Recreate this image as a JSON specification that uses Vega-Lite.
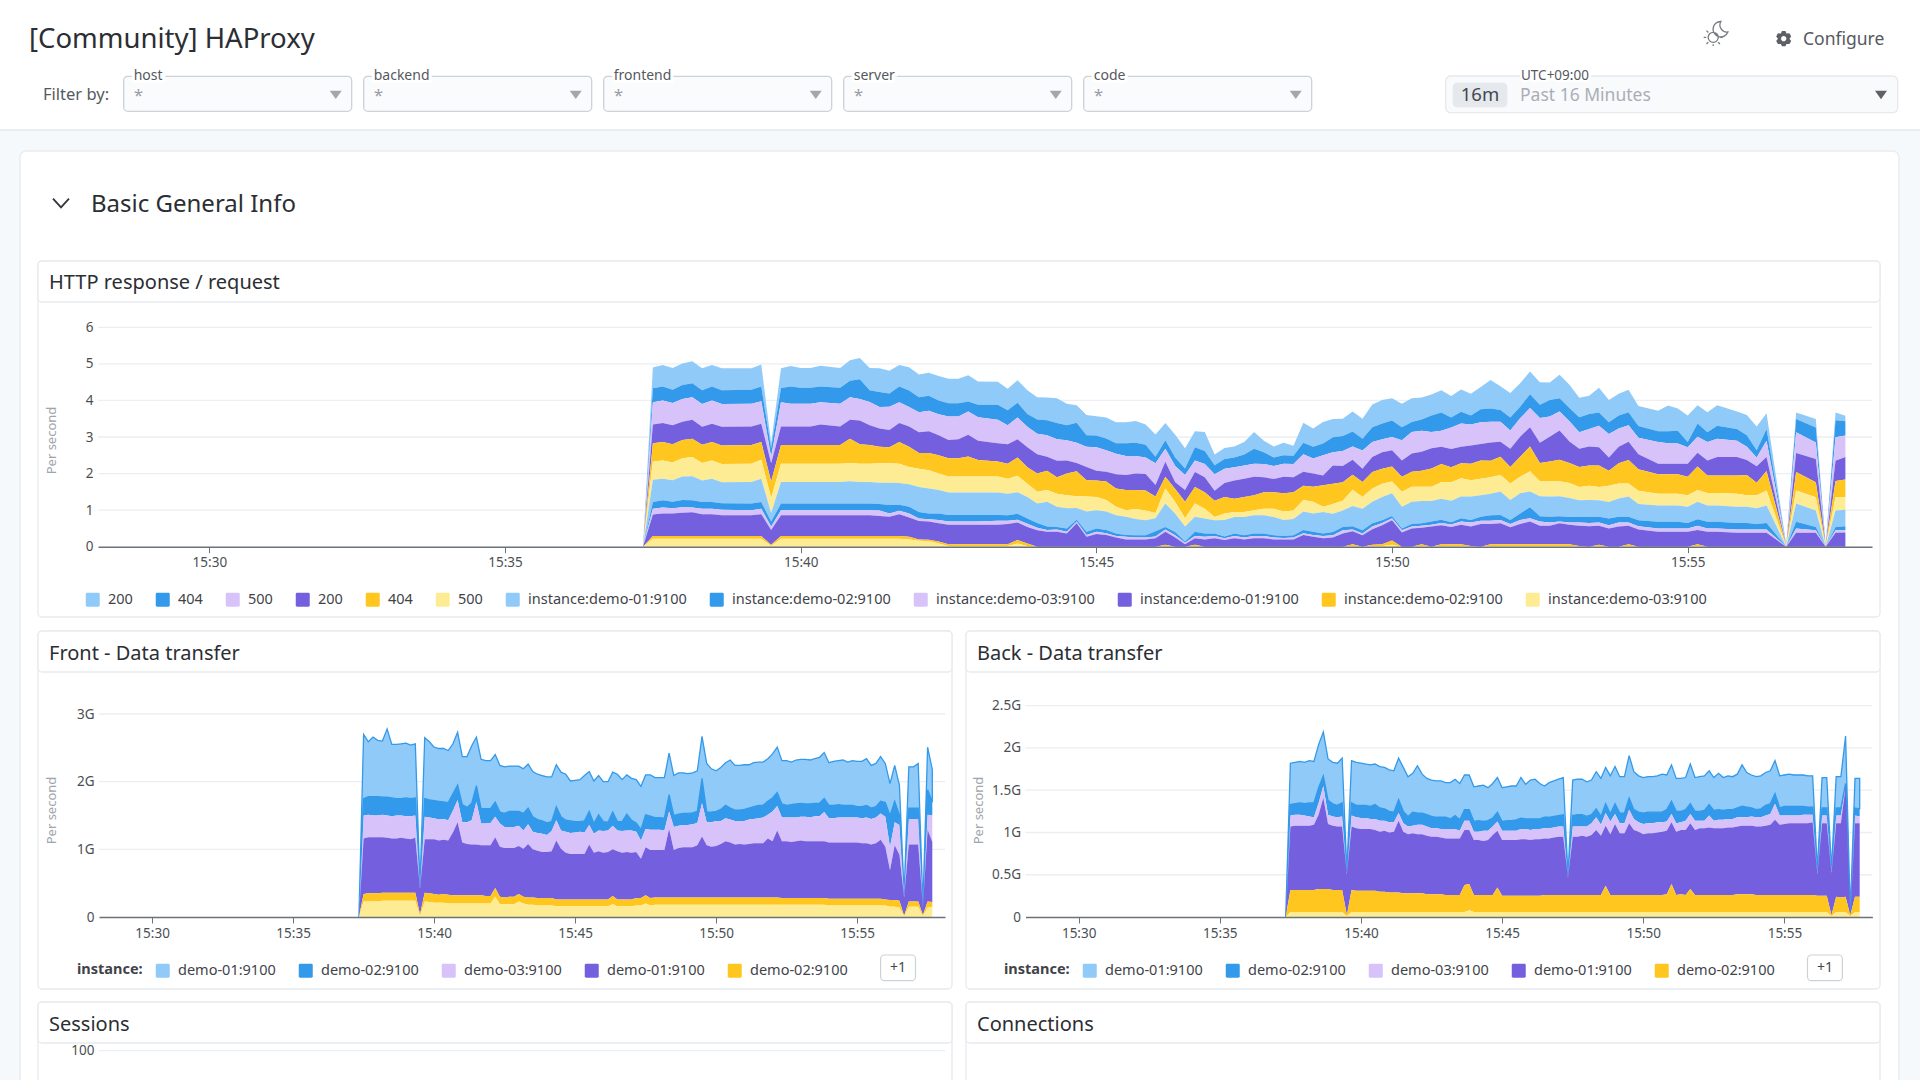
{
"$schema":"https://vega.github.io/schema/vega-lite/v6.json",
"width":1920,"height":1080,"autosize":"none","padding":0,"background":"#f6f9fb",
"config":{"font":"Noto Sans","view":{"stroke":null},"text":{"font":"Noto Sans"}},
"resolve":{"scale":{"x":"independent","y":"independent","color":"independent","stroke":"independent"},"axis":{"x":"independent","y":"independent"},"legend":{"color":"independent"}},
"datasets":{
"ticksHttp":[{"v":1},{"v":2},{"v":3},{"v":4},{"v":5},{"v":6}],
"ticksFront":[{"v":1},{"v":2},{"v":3}],
"ticksBack":[{"v":0.5},{"v":1},{"v":1.5},{"v":2},{"v":2.5}],
"ticksSessions":[{"v":100}],
"ticksConnections":[{"v":80}],
"filters":[{"name":"host","star":"*","group":"Filter by"},{"name":"backend","star":"*","group":"Filter by"},{"name":"frontend","star":"*","group":"Filter by"},{"name":"server","star":"*","group":"Filter by"},{"name":"code","star":"*","group":"Filter by"}],
"http":[
{"t":"15:37:20","a":0,"b":0,"c":0,"d":0,"e":0,"f":0,"g":0,"h":0,"i":0,"j":0,"k":0,"l":0},
{"t":"15:37:30","a":0.57,"b":0.38,"c":0.61,"d":0.51,"e":0.5,"f":0.5,"g":0.61,"h":0.18,"i":0.16,"j":0.59,"k":0.07,"l":0.22},
{"t":"15:37:40","a":0.59,"b":0.38,"c":0.62,"d":0.52,"e":0.5,"f":0.5,"g":0.59,"h":0.2,"i":0.16,"j":0.62,"k":0.07,"l":0.22},
{"t":"15:37:50","a":0.6,"b":0.36,"c":0.61,"d":0.52,"e":0.5,"f":0.48,"g":0.59,"h":0.18,"i":0.14,"j":0.62,"k":0.07,"l":0.22},
{"t":"15:38:00","a":0.59,"b":0.38,"c":0.62,"d":0.5,"e":0.5,"f":0.5,"g":0.64,"h":0.2,"i":0.15,"j":0.64,"k":0.07,"l":0.22},
{"t":"15:38:10","a":0.6,"b":0.38,"c":0.62,"d":0.52,"e":0.5,"f":0.52,"g":0.66,"h":0.2,"i":0.13,"j":0.65,"k":0.07,"l":0.22},
{"t":"15:38:20","a":0.6,"b":0.38,"c":0.62,"d":0.49,"e":0.5,"f":0.48,"g":0.59,"h":0.18,"i":0.15,"j":0.6,"k":0.07,"l":0.22},
{"t":"15:38:30","a":0.59,"b":0.38,"c":0.64,"d":0.5,"e":0.5,"f":0.5,"g":0.64,"h":0.18,"i":0.15,"j":0.6,"k":0.07,"l":0.22},
{"t":"15:38:40","a":0.6,"b":0.38,"c":0.62,"d":0.51,"e":0.51,"f":0.5,"g":0.57,"h":0.18,"i":0.15,"j":0.57,"k":0.07,"l":0.22},
{"t":"15:39:10","a":0.59,"b":0.38,"c":0.62,"d":0.51,"e":0.51,"f":0.5,"g":0.59,"h":0.18,"i":0.14,"j":0.57,"k":0.07,"l":0.22},
{"t":"15:39:20","a":0.6,"b":0.4,"c":0.62,"d":0.5,"e":0.48,"f":0.52,"g":0.64,"h":0.18,"i":0.15,"j":0.6,"k":0.07,"l":0.22},
{"t":"15:39:30","a":0.14,"b":0.23,"c":0.18,"d":0.5,"e":0.45,"f":0.41,"g":0.23,"h":0.14,"i":0.09,"j":0.41,"k":0.03,"l":0.02},
{"t":"15:39:40","a":0.54,"b":0.39,"c":0.66,"d":0.51,"e":0.51,"f":0.5,"g":0.59,"h":0.18,"i":0.14,"j":0.57,"k":0.07,"l":0.22},
{"t":"15:39:50","a":0.56,"b":0.47,"c":0.62,"d":0.51,"e":0.51,"f":0.5,"g":0.59,"h":0.18,"i":0.14,"j":0.57,"k":0.07,"l":0.22},
{"t":"15:40:00","a":0.54,"b":0.44,"c":0.62,"d":0.51,"e":0.51,"f":0.5,"g":0.59,"h":0.18,"i":0.14,"j":0.57,"k":0.07,"l":0.22},
{"t":"15:40:10","a":0.54,"b":0.44,"c":0.62,"d":0.51,"e":0.51,"f":0.5,"g":0.59,"h":0.18,"i":0.14,"j":0.57,"k":0.07,"l":0.22},
{"t":"15:40:20","a":0.57,"b":0.43,"c":0.61,"d":0.56,"e":0.51,"f":0.5,"g":0.59,"h":0.18,"i":0.14,"j":0.57,"k":0.07,"l":0.22},
{"t":"15:40:40","a":0.54,"b":0.44,"c":0.62,"d":0.51,"e":0.51,"f":0.5,"g":0.59,"h":0.18,"i":0.14,"j":0.57,"k":0.07,"l":0.22},
{"t":"15:40:50","a":0.56,"b":0.45,"c":0.62,"d":0.52,"e":0.66,"f":0.5,"g":0.61,"h":0.18,"i":0.14,"j":0.57,"k":0.07,"l":0.22},
{"t":"15:41:00","a":0.58,"b":0.54,"c":0.59,"d":0.65,"e":0.53,"f":0.5,"g":0.59,"h":0.18,"i":0.14,"j":0.57,"k":0.07,"l":0.22},
{"t":"15:41:10","a":0.61,"b":0.32,"c":0.64,"d":0.54,"e":0.51,"f":0.5,"g":0.59,"h":0.18,"i":0.14,"j":0.57,"k":0.07,"l":0.22},
{"t":"15:41:20","a":0.65,"b":0.41,"c":0.59,"d":0.5,"e":0.45,"f":0.53,"g":0.58,"h":0.18,"i":0.15,"j":0.55,"k":0.07,"l":0.22},
{"t":"15:41:30","a":0.62,"b":0.36,"c":0.64,"d":0.47,"e":0.44,"f":0.53,"g":0.61,"h":0.23,"i":0.09,"j":0.53,"k":0.07,"l":0.22},
{"t":"15:41:40","a":0.59,"b":0.43,"c":0.57,"d":0.52,"e":0.59,"f":0.53,"g":0.59,"h":0.17,"i":0.09,"j":0.6,"k":0.07,"l":0.22},
{"t":"15:41:50","a":0.64,"b":0.45,"c":0.53,"d":0.56,"e":0.55,"f":0.47,"g":0.62,"h":0.18,"i":0.11,"j":0.53,"k":0.07,"l":0.2},
{"t":"15:42:00","a":0.62,"b":0.41,"c":0.55,"d":0.57,"e":0.43,"f":0.5,"g":0.68,"h":0.18,"i":0.07,"j":0.5,"k":0.04,"l":0.16},
{"t":"15:42:10","a":0.63,"b":0.41,"c":0.56,"d":0.6,"e":0.47,"f":0.5,"g":0.68,"h":0.16,"i":0.06,"j":0.5,"k":0.04,"l":0.15},
{"t":"15:42:20","a":0.67,"b":0.38,"c":0.57,"d":0.55,"e":0.5,"f":0.45,"g":0.64,"h":0.18,"i":0.09,"j":0.5,"k":0.05,"l":0.09},
{"t":"15:42:30","a":0.67,"b":0.36,"c":0.64,"d":0.5,"e":0.5,"f":0.44,"g":0.61,"h":0.18,"i":0.09,"j":0.53,"k":0.05,"l":0.02},
{"t":"15:42:40","a":0.67,"b":0.36,"c":0.62,"d":0.52,"e":0.5,"f":0.44,"g":0.61,"h":0.18,"i":0.09,"j":0.53,"k":0.05,"l":0.02},
{"t":"15:42:50","a":0.72,"b":0.27,"c":0.64,"d":0.59,"e":0.55,"f":0.44,"g":0.61,"h":0.18,"i":0.09,"j":0.53,"k":0.05,"l":0.02},
{"t":"15:43:00","a":0.64,"b":0.34,"c":0.64,"d":0.53,"e":0.45,"f":0.44,"g":0.61,"h":0.18,"i":0.09,"j":0.53,"k":0.05,"l":0.02},
{"t":"15:43:20","a":0.63,"b":0.41,"c":0.64,"d":0.5,"e":0.41,"f":0.44,"g":0.61,"h":0.16,"i":0.11,"j":0.53,"k":0.05,"l":0.02},
{"t":"15:43:30","a":0.59,"b":0.41,"c":0.52,"d":0.53,"e":0.41,"f":0.41,"g":0.59,"h":0.15,"i":0.09,"j":0.55,"k":0.05,"l":0.02},
{"t":"15:43:40","a":0.61,"b":0.41,"c":0.59,"d":0.5,"e":0.5,"f":0.45,"g":0.59,"h":0.16,"i":0.08,"j":0.48,"k":0.09,"l":0.09},
{"t":"15:43:50","a":0.65,"b":0.35,"c":0.56,"d":0.55,"e":0.45,"f":0.36,"g":0.59,"h":0.14,"i":0.09,"j":0.45,"k":0.07,"l":0.02},
{"t":"15:44:00","a":0.61,"b":0.39,"c":0.56,"d":0.53,"e":0.5,"f":0.32,"g":0.53,"h":0.13,"i":0.07,"j":0.45,"k":0,"l":0},
{"t":"15:44:10","a":0.62,"b":0.41,"c":0.59,"d":0.38,"e":0.53,"f":0.32,"g":0.68,"h":0.09,"i":0.05,"j":0.41,"k":0,"l":0},
{"t":"15:44:20","a":0.68,"b":0.44,"c":0.59,"d":0.45,"e":0.45,"f":0.36,"g":0.55,"h":0.07,"i":0.06,"j":0.41,"k":0,"l":0},
{"t":"15:44:30","a":0.59,"b":0.41,"c":0.55,"d":0.36,"e":0.59,"f":0.36,"g":0.55,"h":0.09,"i":0.05,"j":0.36,"k":0,"l":0},
{"t":"15:44:40","a":0.48,"b":0.55,"c":0.55,"d":0.23,"e":0.68,"f":0.32,"g":0.32,"h":0.05,"i":0.05,"j":0.64,"k":0,"l":0},
{"t":"15:44:50","a":0.55,"b":0.32,"c":0.55,"d":0.36,"e":0.45,"f":0.41,"g":0.55,"h":0.09,"i":0.05,"j":0.27,"k":0,"l":0},
{"t":"15:45:00","a":0.53,"b":0.32,"c":0.64,"d":0.27,"e":0.45,"f":0.36,"g":0.5,"h":0.09,"i":0.06,"j":0.35,"k":0,"l":0},
{"t":"15:45:10","a":0.57,"b":0.32,"c":0.59,"d":0.27,"e":0.5,"f":0.32,"g":0.5,"h":0.09,"i":0.05,"j":0.32,"k":0,"l":0},
{"t":"15:45:20","a":0.57,"b":0.29,"c":0.56,"d":0.39,"e":0.5,"f":0.23,"g":0.5,"h":0.07,"i":0.04,"j":0.25,"k":0,"l":0},
{"t":"15:45:30","a":0.57,"b":0.35,"c":0.52,"d":0.41,"e":0.55,"f":0.18,"g":0.5,"h":0.05,"i":0.07,"j":0.2,"k":0,"l":0},
{"t":"15:45:40","a":0.6,"b":0.36,"c":0.48,"d":0.45,"e":0.52,"f":0.27,"g":0.45,"h":0.06,"i":0.05,"j":0.2,"k":0,"l":0},
{"t":"15:45:50","a":0.55,"b":0.35,"c":0.45,"d":0.45,"e":0.55,"f":0.27,"g":0.41,"h":0.06,"i":0.05,"j":0.2,"k":0,"l":0},
{"t":"15:46:00","a":0.61,"b":0.18,"c":0.59,"d":0.32,"e":0.45,"f":0.14,"g":0.36,"h":0.14,"i":0.05,"j":0.23,"k":0,"l":0},
{"t":"15:46:10","a":0.47,"b":0.23,"c":0.36,"d":0.41,"e":0.32,"f":0.41,"g":0.64,"h":0.07,"i":0.06,"j":0.36,"k":0.03,"l":0.02},
{"t":"15:46:20","a":0.62,"b":0.23,"c":0.45,"d":0.18,"e":0.36,"f":0.32,"g":0.5,"h":0.09,"i":0.06,"j":0.25,"k":0,"l":0},
{"t":"15:46:30","a":0.55,"b":0.18,"c":0.41,"d":0.32,"e":0.45,"f":0.23,"g":0.41,"h":0.03,"i":0.04,"j":0.07,"k":0,"l":0},
{"t":"15:46:40","a":0.44,"b":0.36,"c":0.32,"d":0.41,"e":0.45,"f":0.36,"g":0.41,"h":0.12,"i":0.06,"j":0.18,"k":0.03,"l":0.02},
{"t":"15:46:50","a":0.52,"b":0.36,"c":0.36,"d":0.41,"e":0.45,"f":0.27,"g":0.41,"h":0.09,"i":0.07,"j":0.2,"k":0,"l":0},
{"t":"15:47:00","a":0.29,"b":0.25,"c":0.45,"d":0.27,"e":0.45,"f":0.09,"g":0.36,"h":0.07,"i":0.06,"j":0.23,"k":0,"l":0},
{"t":"15:47:10","a":0.3,"b":0.27,"c":0.39,"d":0.38,"e":0.45,"f":0.18,"g":0.45,"h":0.05,"i":0.05,"j":0.18,"k":0,"l":0},
{"t":"15:47:20","a":0.3,"b":0.27,"c":0.36,"d":0.5,"e":0.36,"f":0.14,"g":0.45,"h":0.07,"i":0.06,"j":0.23,"k":0,"l":0},
{"t":"15:47:30","a":0.34,"b":0.3,"c":0.36,"d":0.5,"e":0.41,"f":0.14,"g":0.5,"h":0.06,"i":0.05,"j":0.2,"k":0,"l":0},
{"t":"15:47:40","a":0.46,"b":0.41,"c":0.36,"d":0.5,"e":0.41,"f":0.14,"g":0.5,"h":0.07,"i":0.06,"j":0.23,"k":0,"l":0},
{"t":"15:47:50","a":0.32,"b":0.32,"c":0.36,"d":0.41,"e":0.45,"f":0.18,"g":0.5,"h":0.07,"i":0.06,"j":0.23,"k":0,"l":0},
{"t":"15:48:00","a":0.3,"b":0.23,"c":0.36,"d":0.36,"e":0.45,"f":0.23,"g":0.5,"h":0.06,"i":0.05,"j":0.2,"k":0,"l":0},
{"t":"15:48:10","a":0.34,"b":0.23,"c":0.36,"d":0.45,"e":0.5,"f":0.23,"g":0.44,"h":0.05,"i":0.04,"j":0.2,"k":0,"l":0},
{"t":"15:48:20","a":0.27,"b":0.23,"c":0.36,"d":0.41,"e":0.5,"f":0.23,"g":0.45,"h":0.06,"i":0.05,"j":0.2,"k":0,"l":0},
{"t":"15:48:30","a":0.55,"b":0.31,"c":0.48,"d":0.38,"e":0.39,"f":0.32,"g":0.5,"h":0.09,"i":0.05,"j":0.32,"k":0,"l":0},
{"t":"15:48:40","a":0.5,"b":0.32,"c":0.41,"d":0.36,"e":0.41,"f":0.32,"g":0.5,"h":0.09,"i":0.05,"j":0.27,"k":0,"l":0},
{"t":"15:48:50","a":0.59,"b":0.32,"c":0.55,"d":0.27,"e":0.59,"f":0.14,"g":0.59,"h":0.07,"i":0.06,"j":0.23,"k":0,"l":0},
{"t":"15:49:00","a":0.5,"b":0.41,"c":0.36,"d":0.5,"e":0.55,"f":0.27,"g":0.5,"h":0.09,"i":0.06,"j":0.25,"k":0,"l":0},
{"t":"15:49:10","a":0.47,"b":0.41,"c":0.41,"d":0.45,"e":0.5,"f":0.27,"g":0.45,"h":0.09,"i":0.09,"j":0.36,"k":0,"l":0},
{"t":"15:49:20","a":0.55,"b":0.41,"c":0.36,"d":0.41,"e":0.41,"f":0.45,"g":0.55,"h":0.09,"i":0.05,"j":0.35,"k":0.05,"l":0.02},
{"t":"15:49:30","a":0.55,"b":0.32,"c":0.5,"d":0.36,"e":0.41,"f":0.32,"g":0.59,"h":0.09,"i":0.05,"j":0.31,"k":0,"l":0},
{"t":"15:49:40","a":0.62,"b":0.41,"c":0.41,"d":0.41,"e":0.45,"f":0.36,"g":0.59,"h":0.09,"i":0.07,"j":0.43,"k":0.03,"l":0.02},
{"t":"15:49:50","a":0.64,"b":0.43,"c":0.36,"d":0.45,"e":0.41,"f":0.36,"g":0.64,"h":0.07,"i":0.06,"j":0.52,"k":0.05,"l":0.02},
{"t":"15:50:00","a":0.61,"b":0.45,"c":0.36,"d":0.45,"e":0.41,"f":0.32,"g":0.62,"h":0.06,"i":0.06,"j":0.55,"k":0.12,"l":0.05},
{"t":"15:50:10","a":0.64,"b":0.36,"c":0.55,"d":0.45,"e":0.41,"f":0.41,"g":0.59,"h":0.05,"i":0.06,"j":0.39,"k":0,"l":0},
{"t":"15:50:20","a":0.65,"b":0.27,"c":0.59,"d":0.5,"e":0.41,"f":0.41,"g":0.61,"h":0.07,"i":0.05,"j":0.5,"k":0,"l":0},
{"t":"15:50:30","a":0.6,"b":0.31,"c":0.57,"d":0.52,"e":0.44,"f":0.39,"g":0.61,"h":0.07,"i":0.05,"j":0.45,"k":0.05,"l":0.02},
{"t":"15:50:40","a":0.57,"b":0.45,"c":0.45,"d":0.55,"e":0.5,"f":0.39,"g":0.56,"h":0.09,"i":0.05,"j":0.55,"k":0,"l":0},
{"t":"15:50:50","a":0.61,"b":0.5,"c":0.44,"d":0.47,"e":0.5,"f":0.45,"g":0.57,"h":0.09,"i":0.06,"j":0.52,"k":0.05,"l":0.02},
{"t":"15:51:00","a":0.59,"b":0.27,"c":0.59,"d":0.5,"e":0.41,"f":0.5,"g":0.59,"h":0.06,"i":0.07,"j":0.47,"k":0.05,"l":0.02},
{"t":"15:51:10","a":0.61,"b":0.32,"c":0.64,"d":0.45,"e":0.41,"f":0.5,"g":0.59,"h":0.09,"i":0.09,"j":0.53,"k":0.05,"l":0.02},
{"t":"15:51:20","a":0.59,"b":0.25,"c":0.57,"d":0.5,"e":0.45,"f":0.45,"g":0.64,"h":0.07,"i":0.11,"j":0.53,"k":0.02,"l":0},
{"t":"15:51:30","a":0.61,"b":0.36,"c":0.59,"d":0.45,"e":0.5,"f":0.45,"g":0.59,"h":0.11,"i":0.09,"j":0.62,"k":0,"l":0},
{"t":"15:51:40","a":0.78,"b":0.36,"c":0.57,"d":0.5,"e":0.45,"f":0.45,"g":0.59,"h":0.15,"i":0.09,"j":0.55,"k":0.05,"l":0.02},
{"t":"15:51:50","a":0.65,"b":0.32,"c":0.55,"d":0.41,"e":0.5,"f":0.45,"g":0.64,"h":0.14,"i":0.09,"j":0.57,"k":0.05,"l":0.02},
{"t":"15:52:00","a":0.67,"b":0.35,"c":0.5,"d":0.5,"e":0.45,"f":0.45,"g":0.55,"h":0.11,"i":0.09,"j":0.46,"k":0.05,"l":0.02},
{"t":"15:52:10","a":0.64,"b":0.32,"c":0.5,"d":0.55,"e":0.55,"f":0.45,"g":0.55,"h":0.18,"i":0.11,"j":0.55,"k":0.05,"l":0.02},
{"t":"15:52:20","a":0.62,"b":0.38,"c":0.52,"d":0.53,"e":0.68,"f":0.55,"g":0.43,"h":0.3,"i":0.09,"j":0.62,"k":0.05,"l":0.02},
{"t":"15:52:30","a":0.62,"b":0.36,"c":0.68,"d":0.55,"e":0.5,"f":0.41,"g":0.55,"h":0.14,"i":0.12,"j":0.5,"k":0.05,"l":0.02},
{"t":"15:52:40","a":0.48,"b":0.45,"c":0.55,"d":0.68,"e":0.55,"f":0.41,"g":0.55,"h":0.16,"i":0.09,"j":0.5,"k":0.05,"l":0.02},
{"t":"15:52:50","a":0.64,"b":0.36,"c":0.52,"d":0.8,"e":0.59,"f":0.41,"g":0.55,"h":0.14,"i":0.05,"j":0.57,"k":0.05,"l":0.02},
{"t":"15:53:00","a":0.64,"b":0.36,"c":0.55,"d":0.59,"e":0.55,"f":0.41,"g":0.52,"h":0.15,"i":0.06,"j":0.53,"k":0.05,"l":0.02},
{"t":"15:53:10","a":0.53,"b":0.41,"c":0.45,"d":0.5,"e":0.55,"f":0.36,"g":0.45,"h":0.16,"i":0.09,"j":0.55,"k":0.02,"l":0},
{"t":"15:53:20","a":0.5,"b":0.41,"c":0.48,"d":0.52,"e":0.55,"f":0.39,"g":0.47,"h":0.16,"i":0.09,"j":0.56,"k":0,"l":0},
{"t":"15:53:30","a":0.68,"b":0.36,"c":0.59,"d":0.5,"e":0.59,"f":0.36,"g":0.45,"h":0.16,"i":0.09,"j":0.52,"k":0.03,"l":0.02},
{"t":"15:53:40","a":0.61,"b":0.32,"c":0.64,"d":0.36,"e":0.41,"f":0.45,"g":0.45,"h":0.18,"i":0.09,"j":0.5,"k":0,"l":0},
{"t":"15:53:50","a":0.59,"b":0.36,"c":0.5,"d":0.45,"e":0.55,"f":0.41,"g":0.5,"h":0.16,"i":0.11,"j":0.55,"k":0,"l":0},
{"t":"15:54:00","a":0.61,"b":0.36,"c":0.45,"d":0.5,"e":0.64,"f":0.36,"g":0.55,"h":0.16,"i":0.09,"j":0.5,"k":0.05,"l":0.02},
{"t":"15:54:10","a":0.55,"b":0.32,"c":0.45,"d":0.41,"e":0.59,"f":0.36,"g":0.45,"h":0.16,"i":0.09,"j":0.47,"k":0,"l":0},
{"t":"15:54:30","a":0.56,"b":0.3,"c":0.59,"d":0.29,"e":0.53,"f":0.32,"g":0.45,"h":0.18,"i":0.09,"j":0.41,"k":0,"l":0},
{"t":"15:54:40","a":0.7,"b":0.33,"c":0.56,"d":0.29,"e":0.53,"f":0.32,"g":0.45,"h":0.18,"i":0.09,"j":0.41,"k":0,"l":0},
{"t":"15:54:50","a":0.61,"b":0.35,"c":0.55,"d":0.29,"e":0.53,"f":0.32,"g":0.45,"h":0.18,"i":0.09,"j":0.41,"k":0,"l":0},
{"t":"15:55:00","a":0.73,"b":0.14,"c":0.45,"d":0.36,"e":0.5,"f":0.32,"g":0.44,"h":0.15,"i":0.09,"j":0.41,"k":0,"l":0},
{"t":"15:55:10","a":0.5,"b":0.36,"c":0.44,"d":0.38,"e":0.64,"f":0.32,"g":0.48,"h":0.18,"i":0.11,"j":0.39,"k":0.05,"l":0.02},
{"t":"15:55:20","a":0.55,"b":0.27,"c":0.5,"d":0.41,"e":0.48,"f":0.34,"g":0.45,"h":0.18,"i":0.09,"j":0.41,"k":0,"l":0},
{"t":"15:55:30","a":0.56,"b":0.36,"c":0.5,"d":0.5,"e":0.48,"f":0.34,"g":0.45,"h":0.18,"i":0.09,"j":0.41,"k":0,"l":0},
{"t":"15:55:50","a":0.48,"b":0.32,"c":0.45,"d":0.5,"e":0.5,"f":0.36,"g":0.44,"h":0.18,"i":0.09,"j":0.38,"k":0,"l":0},
{"t":"15:56:00","a":0.55,"b":0.32,"c":0.36,"d":0.41,"e":0.55,"f":0.32,"g":0.44,"h":0.18,"i":0.09,"j":0.38,"k":0,"l":0},
{"t":"15:56:10","a":0.65,"b":0.2,"c":0.24,"d":0.45,"e":0.34,"f":0.36,"g":0.43,"h":0.15,"i":0.09,"j":0.38,"k":0,"l":0},
{"t":"15:56:20","a":0.43,"b":0.32,"c":0.45,"d":0.38,"e":0.53,"f":0.41,"g":0.48,"h":0.18,"i":0.09,"j":0.38,"k":0,"l":0},
{"t":"15:56:40","a":0.01,"b":0.01,"c":0.01,"d":0.01,"e":0.01,"f":0,"g":0,"h":0,"i":0,"j":0,"k":0,"l":0},
{"t":"15:56:50","a":0.18,"b":0.36,"c":0.57,"d":0.52,"e":0.5,"f":0.36,"g":0.5,"h":0.18,"i":0.12,"j":0.38,"k":0,"l":0},
{"t":"15:57:10","a":0.23,"b":0.41,"c":0.45,"d":0.64,"e":0.41,"f":0.36,"g":0.45,"h":0.09,"i":0.07,"j":0.38,"k":0,"l":0},
{"t":"15:57:20","a":0.01,"b":0.01,"c":0.01,"d":0.01,"e":0.01,"f":0,"g":0,"h":0,"i":0,"j":0,"k":0,"l":0},
{"t":"15:57:30","a":0.21,"b":0.47,"c":0.64,"d":0.55,"e":0.45,"f":0.36,"g":0.45,"h":0.09,"i":0.07,"j":0.38,"k":0,"l":0},
{"t":"15:57:40","a":0.15,"b":0.39,"c":0.59,"d":0.61,"e":0.48,"f":0.35,"g":0.45,"h":0.11,"i":0.06,"j":0.39,"k":0,"l":0}
],
"front":[
{"t":"15:37:20","a":0,"b":0,"c":0,"d":0,"e":0,"f":0},
{"t":"15:37:30","a":0.95,"b":0.25,"c":0.34,"d":0.82,"e":0.11,"f":0.23},
{"t":"15:37:40","a":0.81,"b":0.27,"c":0.33,"d":0.83,"e":0.12,"f":0.23},
{"t":"15:37:50","a":0.88,"b":0.28,"c":0.32,"d":0.83,"e":0.12,"f":0.23},
{"t":"15:38:00","a":0.83,"b":0.28,"c":0.32,"d":0.83,"e":0.12,"f":0.23},
{"t":"15:38:10","a":0.83,"b":0.26,"c":0.33,"d":0.82,"e":0.12,"f":0.24},
{"t":"15:38:20","a":1.01,"b":0.27,"c":0.33,"d":0.81,"e":0.12,"f":0.24},
{"t":"15:38:30","a":0.79,"b":0.27,"c":0.33,"d":0.8,"e":0.12,"f":0.24},
{"t":"15:38:40","a":0.8,"b":0.25,"c":0.34,"d":0.8,"e":0.12,"f":0.24},
{"t":"15:38:50","a":0.81,"b":0.25,"c":0.33,"d":0.81,"e":0.12,"f":0.24},
{"t":"15:39:00","a":0.81,"b":0.27,"c":0.33,"d":0.8,"e":0.12,"f":0.24},
{"t":"15:39:10","a":0.79,"b":0.26,"c":0.34,"d":0.79,"e":0.12,"f":0.24},
{"t":"15:39:20","a":0.8,"b":0.26,"c":0.33,"d":0.81,"e":0.12,"f":0.24},
{"t":"15:39:30","a":0.02,"b":0.02,"c":0.02,"d":0.38,"e":0.03,"f":0.01},
{"t":"15:39:40","a":0.9,"b":0.27,"c":0.33,"d":0.79,"e":0.13,"f":0.23},
{"t":"15:39:50","a":0.86,"b":0.26,"c":0.32,"d":0.8,"e":0.13,"f":0.22},
{"t":"15:40:00","a":0.79,"b":0.26,"c":0.31,"d":0.81,"e":0.13,"f":0.21},
{"t":"15:40:10","a":0.78,"b":0.27,"c":0.31,"d":0.8,"e":0.12,"f":0.21},
{"t":"15:40:20","a":0.79,"b":0.25,"c":0.31,"d":0.8,"e":0.13,"f":0.21},
{"t":"15:40:30","a":0.77,"b":0.26,"c":0.3,"d":0.8,"e":0.13,"f":0.2},
{"t":"15:40:40","a":0.74,"b":0.25,"c":0.32,"d":0.93,"e":0.12,"f":0.2},
{"t":"15:40:50","a":0.78,"b":0.22,"c":0.33,"d":1.08,"e":0.12,"f":0.2},
{"t":"15:41:00","a":0.71,"b":0.26,"c":0.3,"d":0.78,"e":0.12,"f":0.2},
{"t":"15:41:10","a":0.75,"b":0.22,"c":0.32,"d":0.76,"e":0.12,"f":0.2},
{"t":"15:41:20","a":0.85,"b":0.25,"c":0.36,"d":0.75,"e":0.12,"f":0.2},
{"t":"15:41:30","a":0.72,"b":0.24,"c":0.63,"d":0.75,"e":0.12,"f":0.2},
{"t":"15:41:40","a":0.73,"b":0.22,"c":0.32,"d":0.74,"e":0.12,"f":0.2},
{"t":"15:41:50","a":0.71,"b":0.22,"c":0.32,"d":0.75,"e":0.11,"f":0.2},
{"t":"15:42:00","a":0.71,"b":0.21,"c":0.33,"d":0.75,"e":0.11,"f":0.2},
{"t":"15:42:10","a":0.7,"b":0.22,"c":0.3,"d":0.75,"e":0.13,"f":0.3},
{"t":"15:42:20","a":0.69,"b":0.17,"c":0.34,"d":0.74,"e":0.11,"f":0.19},
{"t":"15:42:30","a":0.69,"b":0.2,"c":0.31,"d":0.73,"e":0.1,"f":0.19},
{"t":"15:42:40","a":0.67,"b":0.23,"c":0.31,"d":0.72,"e":0.11,"f":0.19},
{"t":"15:42:50","a":0.67,"b":0.23,"c":0.31,"d":0.72,"e":0.11,"f":0.19},
{"t":"15:43:00","a":0.67,"b":0.21,"c":0.3,"d":0.71,"e":0.11,"f":0.23},
{"t":"15:43:10","a":0.66,"b":0.25,"c":0.27,"d":0.71,"e":0.1,"f":0.2},
{"t":"15:43:20","a":0.65,"b":0.24,"c":0.29,"d":0.79,"e":0.11,"f":0.18},
{"t":"15:43:30","a":0.67,"b":0.22,"c":0.26,"d":0.71,"e":0.11,"f":0.18},
{"t":"15:43:40","a":0.67,"b":0.2,"c":0.26,"d":0.7,"e":0.11,"f":0.17},
{"t":"15:43:50","a":0.67,"b":0.19,"c":0.27,"d":0.68,"e":0.11,"f":0.17},
{"t":"15:44:00","a":0.68,"b":0.18,"c":0.25,"d":0.68,"e":0.11,"f":0.17},
{"t":"15:44:10","a":0.66,"b":0.14,"c":0.3,"d":0.69,"e":0.11,"f":0.17},
{"t":"15:44:20","a":0.62,"b":0.2,"c":0.3,"d":0.87,"e":0.1,"f":0.16},
{"t":"15:44:30","a":0.66,"b":0.2,"c":0.27,"d":0.75,"e":0.1,"f":0.16},
{"t":"15:44:40","a":0.68,"b":0.17,"c":0.31,"d":0.69,"e":0.1,"f":0.16},
{"t":"15:44:50","a":0.59,"b":0.18,"c":0.31,"d":0.67,"e":0.1,"f":0.16},
{"t":"15:45:00","a":0.61,"b":0.16,"c":0.32,"d":0.67,"e":0.1,"f":0.16},
{"t":"15:45:10","a":0.62,"b":0.15,"c":0.33,"d":0.67,"e":0.1,"f":0.16},
{"t":"15:45:20","a":0.67,"b":0.17,"c":0.32,"d":0.67,"e":0.1,"f":0.16},
{"t":"15:45:30","a":0.59,"b":0.2,"c":0.29,"d":0.81,"e":0.1,"f":0.16},
{"t":"15:45:40","a":0.63,"b":0.15,"c":0.28,"d":0.69,"e":0.1,"f":0.16},
{"t":"15:45:50","a":0.58,"b":0.23,"c":0.31,"d":0.71,"e":0.1,"f":0.16},
{"t":"15:46:00","a":0.59,"b":0.14,"c":0.32,"d":0.69,"e":0.1,"f":0.16},
{"t":"15:46:10","a":0.6,"b":0.12,"c":0.32,"d":0.7,"e":0.1,"f":0.16},
{"t":"15:46:20","a":0.59,"b":0.2,"c":0.35,"d":0.69,"e":0.12,"f":0.19},
{"t":"15:46:30","a":0.7,"b":0.13,"c":0.31,"d":0.71,"e":0.1,"f":0.16},
{"t":"15:46:40","a":0.62,"b":0.14,"c":0.32,"d":0.69,"e":0.1,"f":0.16},
{"t":"15:46:50","a":0.58,"b":0.24,"c":0.32,"d":0.7,"e":0.1,"f":0.16},
{"t":"15:47:00","a":0.62,"b":0.15,"c":0.33,"d":0.69,"e":0.1,"f":0.16},
{"t":"15:47:10","a":0.64,"b":0.13,"c":0.3,"d":0.68,"e":0.11,"f":0.17},
{"t":"15:47:20","a":0.64,"b":0.16,"c":0.27,"d":0.58,"e":0.11,"f":0.17},
{"t":"15:47:30","a":0.59,"b":0.21,"c":0.27,"d":0.71,"e":0.12,"f":0.2},
{"t":"15:47:40","a":0.61,"b":0.2,"c":0.3,"d":0.71,"e":0.11,"f":0.17},
{"t":"15:47:50","a":0.59,"b":0.18,"c":0.3,"d":0.7,"e":0.11,"f":0.18},
{"t":"15:48:00","a":0.59,"b":0.18,"c":0.3,"d":0.7,"e":0.11,"f":0.18},
{"t":"15:48:10","a":0.6,"b":0.18,"c":0.29,"d":0.7,"e":0.11,"f":0.18},
{"t":"15:48:20","a":0.61,"b":0.25,"c":0.26,"d":1.01,"e":0.11,"f":0.18},
{"t":"15:48:30","a":0.59,"b":0.17,"c":0.34,"d":0.7,"e":0.11,"f":0.18},
{"t":"15:48:40","a":0.61,"b":0.17,"c":0.33,"d":0.73,"e":0.11,"f":0.18},
{"t":"15:48:50","a":0.6,"b":0.17,"c":0.33,"d":0.74,"e":0.11,"f":0.18},
{"t":"15:49:00","a":0.59,"b":0.17,"c":0.33,"d":0.74,"e":0.11,"f":0.18},
{"t":"15:49:10","a":0.59,"b":0.17,"c":0.34,"d":0.74,"e":0.11,"f":0.18},
{"t":"15:49:20","a":0.6,"b":0.17,"c":0.33,"d":0.77,"e":0.11,"f":0.18},
{"t":"15:49:30","a":0.62,"b":0.37,"c":0.49,"d":0.9,"e":0.11,"f":0.18},
{"t":"15:49:40","a":0.72,"b":0.15,"c":0.34,"d":0.77,"e":0.11,"f":0.18},
{"t":"15:49:50","a":0.64,"b":0.15,"c":0.36,"d":0.75,"e":0.11,"f":0.18},
{"t":"15:50:00","a":0.6,"b":0.14,"c":0.37,"d":0.76,"e":0.11,"f":0.18},
{"t":"15:50:10","a":0.62,"b":0.17,"c":0.34,"d":0.79,"e":0.11,"f":0.18},
{"t":"15:50:20","a":0.63,"b":0.19,"c":0.34,"d":0.83,"e":0.11,"f":0.18},
{"t":"15:50:30","a":0.71,"b":0.17,"c":0.34,"d":0.81,"e":0.11,"f":0.18},
{"t":"15:50:40","a":0.66,"b":0.16,"c":0.35,"d":0.78,"e":0.11,"f":0.18},
{"t":"15:50:50","a":0.66,"b":0.16,"c":0.34,"d":0.79,"e":0.11,"f":0.18},
{"t":"15:51:00","a":0.66,"b":0.17,"c":0.35,"d":0.78,"e":0.11,"f":0.18},
{"t":"15:51:10","a":0.64,"b":0.17,"c":0.36,"d":0.79,"e":0.11,"f":0.18},
{"t":"15:51:20","a":0.65,"b":0.18,"c":0.36,"d":0.8,"e":0.11,"f":0.18},
{"t":"15:51:30","a":0.64,"b":0.19,"c":0.37,"d":0.8,"e":0.11,"f":0.18},
{"t":"15:51:40","a":0.64,"b":0.18,"c":0.38,"d":0.8,"e":0.11,"f":0.18},
{"t":"15:51:50","a":0.63,"b":0.2,"c":0.35,"d":0.87,"e":0.11,"f":0.18},
{"t":"15:52:00","a":0.65,"b":0.2,"c":0.44,"d":0.83,"e":0.11,"f":0.18},
{"t":"15:52:10","a":0.67,"b":0.2,"c":0.36,"d":0.99,"e":0.11,"f":0.18},
{"t":"15:52:20","a":0.64,"b":0.2,"c":0.35,"d":0.84,"e":0.1,"f":0.18},
{"t":"15:52:30","a":0.66,"b":0.18,"c":0.35,"d":0.84,"e":0.1,"f":0.18},
{"t":"15:52:40","a":0.63,"b":0.19,"c":0.36,"d":0.83,"e":0.1,"f":0.18},
{"t":"15:52:50","a":0.65,"b":0.2,"c":0.35,"d":0.84,"e":0.1,"f":0.18},
{"t":"15:53:00","a":0.65,"b":0.2,"c":0.35,"d":0.85,"e":0.1,"f":0.18},
{"t":"15:53:10","a":0.66,"b":0.19,"c":0.36,"d":0.84,"e":0.1,"f":0.18},
{"t":"15:53:20","a":0.65,"b":0.2,"c":0.35,"d":0.84,"e":0.1,"f":0.18},
{"t":"15:53:30","a":0.66,"b":0.19,"c":0.37,"d":0.84,"e":0.1,"f":0.18},
{"t":"15:53:40","a":0.68,"b":0.19,"c":0.37,"d":0.84,"e":0.1,"f":0.18},
{"t":"15:53:50","a":0.68,"b":0.2,"c":0.43,"d":0.84,"e":0.1,"f":0.18},
{"t":"15:54:00","a":0.63,"b":0.19,"c":0.36,"d":0.83,"e":0.1,"f":0.17},
{"t":"15:54:10","a":0.65,"b":0.19,"c":0.36,"d":0.83,"e":0.1,"f":0.17},
{"t":"15:54:20","a":0.65,"b":0.19,"c":0.37,"d":0.83,"e":0.1,"f":0.17},
{"t":"15:54:30","a":0.67,"b":0.18,"c":0.37,"d":0.83,"e":0.1,"f":0.17},
{"t":"15:54:40","a":0.64,"b":0.18,"c":0.37,"d":0.83,"e":0.1,"f":0.17},
{"t":"15:54:50","a":0.66,"b":0.18,"c":0.37,"d":0.83,"e":0.1,"f":0.17},
{"t":"15:55:00","a":0.67,"b":0.16,"c":0.37,"d":0.83,"e":0.1,"f":0.17},
{"t":"15:55:10","a":0.67,"b":0.17,"c":0.37,"d":0.82,"e":0.1,"f":0.17},
{"t":"15:55:20","a":0.69,"b":0.18,"c":0.38,"d":0.82,"e":0.1,"f":0.17},
{"t":"15:55:30","a":0.63,"b":0.16,"c":0.38,"d":0.8,"e":0.1,"f":0.17},
{"t":"15:55:40","a":0.64,"b":0.16,"c":0.38,"d":0.82,"e":0.1,"f":0.17},
{"t":"15:55:50","a":0.66,"b":0.18,"c":0.39,"d":0.87,"e":0.1,"f":0.17},
{"t":"15:56:00","a":0.58,"b":0.21,"c":0.44,"d":0.78,"e":0.09,"f":0.17},
{"t":"15:56:10","a":0.47,"b":0.47,"c":0.34,"d":0.44,"e":0.1,"f":0.15},
{"t":"15:56:20","a":0.53,"b":0.31,"c":0.34,"d":0.81,"e":0.1,"f":0.15},
{"t":"15:56:30","a":0.44,"b":0.15,"c":0.44,"d":0.68,"e":0.1,"f":0.14},
{"t":"15:56:40","a":0.02,"b":0.02,"c":0.02,"d":0.27,"e":0.01,"f":0.01},
{"t":"15:56:50","a":0.61,"b":0.16,"c":0.38,"d":0.84,"e":0.08,"f":0.15},
{"t":"15:57:00","a":0.61,"b":0.16,"c":0.38,"d":0.84,"e":0.08,"f":0.15},
{"t":"15:57:10","a":0.66,"b":0.16,"c":0.38,"d":0.84,"e":0.08,"f":0.15},
{"t":"15:57:20","a":0.01,"b":0.01,"c":0.01,"d":0.12,"e":0.02,"f":0.01},
{"t":"15:57:30","a":0.63,"b":0.37,"c":0.22,"d":1.06,"e":0.09,"f":0.14},
{"t":"15:57:40","a":0.48,"b":0.2,"c":0.39,"d":0.89,"e":0.07,"f":0.15}
],
"back":[
{"t":"15:37:20","a":0,"b":0,"c":0,"d":0,"e":0,"f":0},
{"t":"15:37:30","a":0.49,"b":0.13,"c":0.13,"d":0.75,"e":0.26,"f":0.06},
{"t":"15:37:40","a":0.49,"b":0.13,"c":0.13,"d":0.76,"e":0.26,"f":0.06},
{"t":"15:37:50","a":0.49,"b":0.14,"c":0.13,"d":0.76,"e":0.26,"f":0.06},
{"t":"15:38:00","a":0.49,"b":0.14,"c":0.12,"d":0.76,"e":0.26,"f":0.06},
{"t":"15:38:10","a":0.5,"b":0.16,"c":0.11,"d":0.76,"e":0.26,"f":0.06},
{"t":"15:38:20","a":0.49,"b":0.17,"c":0.09,"d":0.77,"e":0.26,"f":0.06},
{"t":"15:38:30","a":0.51,"b":0.18,"c":0.14,"d":0.88,"e":0.27,"f":0.06},
{"t":"15:38:40","a":0.52,"b":0.12,"c":0.14,"d":1.08,"e":0.27,"f":0.06},
{"t":"15:38:50","a":0.49,"b":0.17,"c":0.11,"d":0.77,"e":0.27,"f":0.06},
{"t":"15:39:00","a":0.49,"b":0.15,"c":0.11,"d":0.76,"e":0.26,"f":0.06},
{"t":"15:39:10","a":0.5,"b":0.14,"c":0.11,"d":0.75,"e":0.26,"f":0.06},
{"t":"15:39:20","a":0.53,"b":0.16,"c":0.12,"d":0.75,"e":0.26,"f":0.06},
{"t":"15:39:30","a":0.02,"b":0.01,"c":0.01,"d":0.49,"e":0.01,"f":0.01},
{"t":"15:39:40","a":0.5,"b":0.15,"c":0.13,"d":0.75,"e":0.26,"f":0.06},
{"t":"15:39:50","a":0.51,"b":0.14,"c":0.13,"d":0.74,"e":0.25,"f":0.06},
{"t":"15:40:00","a":0.5,"b":0.15,"c":0.13,"d":0.73,"e":0.25,"f":0.06},
{"t":"15:40:10","a":0.49,"b":0.15,"c":0.13,"d":0.73,"e":0.25,"f":0.06},
{"t":"15:40:20","a":0.49,"b":0.15,"c":0.12,"d":0.73,"e":0.25,"f":0.06},
{"t":"15:40:30","a":0.48,"b":0.17,"c":0.13,"d":0.72,"e":0.25,"f":0.06},
{"t":"15:40:40","a":0.49,"b":0.15,"c":0.13,"d":0.71,"e":0.24,"f":0.06},
{"t":"15:40:50","a":0.49,"b":0.14,"c":0.12,"d":0.72,"e":0.24,"f":0.06},
{"t":"15:41:00","a":0.49,"b":0.13,"c":0.12,"d":0.71,"e":0.23,"f":0.06},
{"t":"15:41:10","a":0.49,"b":0.12,"c":0.11,"d":0.72,"e":0.23,"f":0.06},
{"t":"15:41:20","a":0.49,"b":0.16,"c":0.09,"d":0.85,"e":0.23,"f":0.06},
{"t":"15:41:30","a":0.52,"b":0.14,"c":0.1,"d":0.73,"e":0.22,"f":0.06},
{"t":"15:41:40","a":0.47,"b":0.12,"c":0.09,"d":0.7,"e":0.22,"f":0.06},
{"t":"15:41:50","a":0.46,"b":0.16,"c":0.09,"d":0.71,"e":0.22,"f":0.06},
{"t":"15:42:00","a":0.56,"b":0.14,"c":0.11,"d":0.7,"e":0.22,"f":0.06},
{"t":"15:42:10","a":0.46,"b":0.14,"c":0.11,"d":0.7,"e":0.22,"f":0.06},
{"t":"15:42:20","a":0.43,"b":0.14,"c":0.11,"d":0.69,"e":0.21,"f":0.06},
{"t":"15:42:30","a":0.43,"b":0.14,"c":0.1,"d":0.68,"e":0.21,"f":0.06},
{"t":"15:42:40","a":0.43,"b":0.13,"c":0.1,"d":0.68,"e":0.21,"f":0.06},
{"t":"15:42:50","a":0.43,"b":0.14,"c":0.1,"d":0.67,"e":0.21,"f":0.06},
{"t":"15:43:00","a":0.41,"b":0.14,"c":0.11,"d":0.67,"e":0.2,"f":0.06},
{"t":"15:43:10","a":0.43,"b":0.12,"c":0.11,"d":0.67,"e":0.2,"f":0.06},
{"t":"15:43:20","a":0.43,"b":0.16,"c":0.11,"d":0.67,"e":0.2,"f":0.06},
{"t":"15:43:30","a":0.43,"b":0.13,"c":0.09,"d":0.67,"e":0.2,"f":0.06},
{"t":"15:43:40","a":0.41,"b":0.13,"c":0.11,"d":0.65,"e":0.32,"f":0.06},
{"t":"15:43:50","a":0.41,"b":0.13,"c":0.11,"d":0.64,"e":0.31,"f":0.08},
{"t":"15:44:00","a":0.41,"b":0.12,"c":0.1,"d":0.65,"e":0.2,"f":0.06},
{"t":"15:44:10","a":0.41,"b":0.13,"c":0.1,"d":0.65,"e":0.2,"f":0.06},
{"t":"15:44:20","a":0.43,"b":0.11,"c":0.12,"d":0.64,"e":0.2,"f":0.06},
{"t":"15:44:30","a":0.39,"b":0.12,"c":0.11,"d":0.65,"e":0.2,"f":0.06},
{"t":"15:44:40","a":0.41,"b":0.1,"c":0.1,"d":0.71,"e":0.2,"f":0.06},
{"t":"15:44:50","a":0.41,"b":0.11,"c":0.11,"d":0.67,"e":0.29,"f":0.06},
{"t":"15:45:00","a":0.4,"b":0.11,"c":0.11,"d":0.66,"e":0.19,"f":0.06},
{"t":"15:45:10","a":0.4,"b":0.12,"c":0.11,"d":0.66,"e":0.19,"f":0.06},
{"t":"15:45:20","a":0.41,"b":0.12,"c":0.11,"d":0.66,"e":0.19,"f":0.06},
{"t":"15:45:30","a":0.4,"b":0.13,"c":0.11,"d":0.66,"e":0.19,"f":0.06},
{"t":"15:45:40","a":0.48,"b":0.13,"c":0.12,"d":0.67,"e":0.19,"f":0.06},
{"t":"15:45:50","a":0.41,"b":0.12,"c":0.12,"d":0.67,"e":0.19,"f":0.06},
{"t":"15:46:00","a":0.46,"b":0.13,"c":0.12,"d":0.66,"e":0.19,"f":0.06},
{"t":"15:46:10","a":0.47,"b":0.12,"c":0.12,"d":0.67,"e":0.19,"f":0.06},
{"t":"15:46:20","a":0.42,"b":0.12,"c":0.12,"d":0.67,"e":0.19,"f":0.06},
{"t":"15:46:30","a":0.37,"b":0.13,"c":0.12,"d":0.67,"e":0.2,"f":0.06},
{"t":"15:46:40","a":0.41,"b":0.13,"c":0.12,"d":0.67,"e":0.2,"f":0.06},
{"t":"15:46:50","a":0.42,"b":0.13,"c":0.12,"d":0.68,"e":0.2,"f":0.06},
{"t":"15:47:00","a":0.43,"b":0.13,"c":0.12,"d":0.69,"e":0.2,"f":0.06},
{"t":"15:47:10","a":0.44,"b":0.14,"c":0.12,"d":0.69,"e":0.2,"f":0.06},
{"t":"15:47:20","a":0.02,"b":0.01,"c":0.01,"d":0.2,"e":0.2,"f":0.06},
{"t":"15:47:30","a":0.42,"b":0.13,"c":0.12,"d":0.69,"e":0.2,"f":0.06},
{"t":"15:47:40","a":0.42,"b":0.14,"c":0.12,"d":0.69,"e":0.2,"f":0.06},
{"t":"15:47:50","a":0.42,"b":0.14,"c":0.11,"d":0.7,"e":0.2,"f":0.06},
{"t":"15:48:00","a":0.41,"b":0.12,"c":0.12,"d":0.69,"e":0.2,"f":0.06},
{"t":"15:48:10","a":0.41,"b":0.1,"c":0.14,"d":0.71,"e":0.2,"f":0.06},
{"t":"15:48:20","a":0.44,"b":0.1,"c":0.15,"d":0.77,"e":0.2,"f":0.06},
{"t":"15:48:30","a":0.45,"b":0.1,"c":0.13,"d":0.7,"e":0.2,"f":0.06},
{"t":"15:48:40","a":0.43,"b":0.11,"c":0.15,"d":0.71,"e":0.31,"f":0.06},
{"t":"15:48:50","a":0.45,"b":0.09,"c":0.15,"d":0.72,"e":0.2,"f":0.06},
{"t":"15:49:00","a":0.44,"b":0.12,"c":0.12,"d":0.84,"e":0.2,"f":0.06},
{"t":"15:49:10","a":0.43,"b":0.12,"c":0.12,"d":0.73,"e":0.2,"f":0.06},
{"t":"15:49:20","a":0.43,"b":0.12,"c":0.12,"d":0.73,"e":0.2,"f":0.06},
{"t":"15:49:30","a":0.5,"b":0.14,"c":0.16,"d":0.85,"e":0.2,"f":0.06},
{"t":"15:49:40","a":0.45,"b":0.11,"c":0.13,"d":0.77,"e":0.2,"f":0.06},
{"t":"15:49:50","a":0.43,"b":0.12,"c":0.11,"d":0.75,"e":0.2,"f":0.06},
{"t":"15:50:00","a":0.42,"b":0.13,"c":0.12,"d":0.72,"e":0.2,"f":0.06},
{"t":"15:50:10","a":0.42,"b":0.13,"c":0.12,"d":0.73,"e":0.2,"f":0.06},
{"t":"15:50:20","a":0.42,"b":0.13,"c":0.12,"d":0.73,"e":0.2,"f":0.06},
{"t":"15:50:30","a":0.43,"b":0.12,"c":0.12,"d":0.74,"e":0.2,"f":0.06},
{"t":"15:50:40","a":0.45,"b":0.12,"c":0.11,"d":0.75,"e":0.2,"f":0.06},
{"t":"15:50:50","a":0.41,"b":0.14,"c":0.11,"d":0.75,"e":0.21,"f":0.06},
{"t":"15:51:00","a":0.43,"b":0.15,"c":0.1,"d":0.73,"e":0.33,"f":0.06},
{"t":"15:51:10","a":0.39,"b":0.14,"c":0.1,"d":0.75,"e":0.2,"f":0.06},
{"t":"15:51:20","a":0.39,"b":0.13,"c":0.09,"d":0.76,"e":0.21,"f":0.06},
{"t":"15:51:30","a":0.38,"b":0.13,"c":0.11,"d":0.77,"e":0.2,"f":0.06},
{"t":"15:51:40","a":0.47,"b":0.12,"c":0.11,"d":0.78,"e":0.27,"f":0.06},
{"t":"15:51:50","a":0.4,"b":0.11,"c":0.11,"d":0.77,"e":0.2,"f":0.06},
{"t":"15:52:00","a":0.41,"b":0.11,"c":0.09,"d":0.79,"e":0.2,"f":0.06},
{"t":"15:52:10","a":0.41,"b":0.12,"c":0.09,"d":0.79,"e":0.2,"f":0.06},
{"t":"15:52:20","a":0.4,"b":0.13,"c":0.14,"d":0.8,"e":0.2,"f":0.06},
{"t":"15:52:30","a":0.39,"b":0.12,"c":0.09,"d":0.79,"e":0.2,"f":0.06},
{"t":"15:52:40","a":0.43,"b":0.12,"c":0.1,"d":0.79,"e":0.2,"f":0.06},
{"t":"15:52:50","a":0.39,"b":0.11,"c":0.1,"d":0.79,"e":0.2,"f":0.06},
{"t":"15:53:00","a":0.4,"b":0.11,"c":0.1,"d":0.8,"e":0.2,"f":0.06},
{"t":"15:53:10","a":0.39,"b":0.11,"c":0.1,"d":0.8,"e":0.2,"f":0.06},
{"t":"15:53:20","a":0.4,"b":0.11,"c":0.11,"d":0.8,"e":0.21,"f":0.06},
{"t":"15:53:30","a":0.49,"b":0.13,"c":0.1,"d":0.81,"e":0.21,"f":0.06},
{"t":"15:53:40","a":0.41,"b":0.12,"c":0.1,"d":0.81,"e":0.21,"f":0.06},
{"t":"15:53:50","a":0.39,"b":0.1,"c":0.11,"d":0.81,"e":0.21,"f":0.06},
{"t":"15:54:00","a":0.39,"b":0.09,"c":0.11,"d":0.81,"e":0.2,"f":0.06},
{"t":"15:54:10","a":0.39,"b":0.1,"c":0.11,"d":0.81,"e":0.2,"f":0.06},
{"t":"15:54:20","a":0.39,"b":0.12,"c":0.12,"d":0.82,"e":0.2,"f":0.06},
{"t":"15:54:30","a":0.39,"b":0.12,"c":0.13,"d":0.83,"e":0.2,"f":0.06},
{"t":"15:54:40","a":0.39,"b":0.12,"c":0.19,"d":0.89,"e":0.2,"f":0.06},
{"t":"15:54:50","a":0.38,"b":0.09,"c":0.11,"d":0.83,"e":0.2,"f":0.06},
{"t":"15:55:00","a":0.37,"b":0.11,"c":0.1,"d":0.84,"e":0.2,"f":0.06},
{"t":"15:55:10","a":0.38,"b":0.11,"c":0.09,"d":0.85,"e":0.2,"f":0.06},
{"t":"15:55:20","a":0.37,"b":0.11,"c":0.09,"d":0.85,"e":0.2,"f":0.06},
{"t":"15:55:30","a":0.37,"b":0.11,"c":0.09,"d":0.85,"e":0.2,"f":0.06},
{"t":"15:55:40","a":0.37,"b":0.1,"c":0.1,"d":0.85,"e":0.2,"f":0.06},
{"t":"15:55:50","a":0.37,"b":0.09,"c":0.1,"d":0.85,"e":0.2,"f":0.06},
{"t":"15:56:00","a":0.37,"b":0.09,"c":0.09,"d":0.86,"e":0.2,"f":0.06},
{"t":"15:56:10","a":0.02,"b":0.01,"c":0.02,"d":0.26,"e":0.19,"f":0.06},
{"t":"15:56:20","a":0.36,"b":0.09,"c":0.09,"d":0.86,"e":0.19,"f":0.06},
{"t":"15:56:30","a":0.36,"b":0.09,"c":0.09,"d":0.86,"e":0.19,"f":0.06},
{"t":"15:56:40","a":0.02,"b":0.01,"c":0.02,"d":0.5,"e":0.01,"f":0.01},
{"t":"15:56:50","a":0.37,"b":0.09,"c":0.09,"d":0.87,"e":0.18,"f":0.06},
{"t":"15:57:00","a":0.37,"b":0.09,"c":0.09,"d":0.88,"e":0.17,"f":0.06},
{"t":"15:57:10","a":0.56,"b":0.04,"c":0,"d":1.3,"e":0.18,"f":0.06},
{"t":"15:57:20","a":0.01,"b":0.01,"c":0.01,"d":0.01,"e":0.01,"f":0.01},
{"t":"15:57:30","a":0.35,"b":0.09,"c":0.09,"d":0.87,"e":0.18,"f":0.06},
{"t":"15:57:40","a":0.36,"b":0.09,"c":0.08,"d":0.87,"e":0.18,"f":0.06}
]
},
"layer":[
{"data":{"values":[{"page":"header"}]},"mark":{"type":"rect","fill":"#ffffff","stroke":"#e9edf0","strokeWidth":2},
 "encoding":{"x":{"field":"page","type":"nominal","axis":null,"scale":{"type":"band","range":[-4,1924],"padding":0}},"y":{"field":"page","type":"nominal","axis":null,"scale":{"type":"band","range":[-4,130],"padding":0}}}},
{"data":{"values":[{"page":"section"}]},"mark":{"type":"rect","fill":"#ffffff","stroke":"#e8edf1","strokeWidth":1.5,"cornerRadius":6},
 "encoding":{"x":{"field":"page","type":"nominal","axis":null,"scale":{"type":"band","range":[20,1899],"padding":0}},"y":{"field":"page","type":"nominal","axis":null,"scale":{"type":"band","range":[151,1120],"padding":0}}}},
{"data":{"values":[{"label":"[Community] HAProxy"}]},"mark":{"type":"text","align":"left","baseline":"middle","fontSize":27.5,"color":"#2b2e33"},
 "encoding":{"x":{"field":"label","type":"nominal","axis":null,"scale":{"type":"point","range":[29,29]}},"y":{"field":"label","type":"nominal","axis":null,"scale":{"type":"point","range":[40,40]}},"text":{"field":"label"}}},
{"data":{"values":[{"label":"Filter by:"}]},"mark":{"type":"text","align":"left","baseline":"middle","fontSize":16.5,"color":"#555a60"},
 "encoding":{"x":{"field":"label","type":"nominal","axis":null,"scale":{"type":"point","range":[43,43]}},"y":{"field":"label","type":"nominal","axis":null,"scale":{"type":"point","range":[95,95]}},"text":{"field":"label"}}},
{"data":{"name":"filters"},"layer":[
 {"mark":{"type":"rect","fill":"#fafbfc","stroke":"#cdd2d7","strokeWidth":1.3,"cornerRadius":4},"encoding":{"x":{"field":"name","type":"nominal","axis":null,"sort":null,"scale":{"type":"band","range":[123.7,1311.7],"paddingInner":0.05,"paddingOuter":0}},"y":{"field":"group","type":"nominal","axis":null,"scale":{"type":"band","range":[76.3,111.3],"padding":0}}}},
 {"mark":{"type":"text","align":"left","baseline":"middle","fontSize":14,"dx":10,"stroke":"#ffffff","strokeWidth":6},"encoding":{"x":{"field":"name","type":"nominal","axis":null,"sort":null,"bandPosition":0},"y":{"field":"group","type":"nominal","axis":null,"bandPosition":0},"text":{"field":"name"}}},
 {"mark":{"type":"text","align":"left","baseline":"middle","fontSize":14,"dx":10,"color":"#55595f"},"encoding":{"x":{"field":"name","type":"nominal","axis":null,"sort":null,"bandPosition":0},"y":{"field":"group","type":"nominal","axis":null,"bandPosition":0},"text":{"field":"name"}}},
 {"mark":{"type":"text","align":"left","baseline":"middle","fontSize":17,"dx":10,"dy":2,"color":"#9a9fa6"},"encoding":{"x":{"field":"name","type":"nominal","axis":null,"sort":null,"bandPosition":0},"y":{"field":"group","type":"nominal","axis":null},"text":{"field":"star"}}},
 {"mark":{"type":"point","shape":"M-1,-0.7L1,-0.7L0,0.7Z","filled":true,"size":144,"color":"#a3a7ad","opacity":1},"encoding":{"x":{"field":"name","type":"nominal","axis":null,"sort":null,"bandPosition":0.93},"y":{"field":"group","type":"nominal","axis":null,"bandPosition":0.53}}}
]},
{"data":{"values":[{"label":"picker"}]},"mark":{"type":"rect","fill":"#f9fafb","stroke":"#e6e9ed","strokeWidth":1.3,"cornerRadius":5},
 "encoding":{"x":{"field":"label","type":"nominal","axis":null,"scale":{"type":"band","range":[1445.7,1897.7],"padding":0}},"y":{"field":"label","type":"nominal","axis":null,"scale":{"type":"band","range":[76,112.7],"padding":0}}}},
{"data":{"values":[{"label":"16m"}]},"layer":[
 {"mark":{"type":"rect","fill":"#e5e8ed","cornerRadius":4},"encoding":{"x":{"field":"label","type":"nominal","axis":null,"scale":{"type":"band","range":[1452.7,1507.3],"padding":0}},"y":{"field":"label","type":"nominal","axis":null,"scale":{"type":"band","range":[82.7,107.3],"padding":0}}}},
 {"mark":{"type":"text","align":"center","baseline":"middle","fontSize":18.5,"dy":-0.5,"color":"#43474d"},"encoding":{"x":{"field":"label","type":"nominal","axis":null},"y":{"field":"label","type":"nominal","axis":null},"text":{"field":"label"}}}
]},
{"data":{"values":[{"label":"Past 16 Minutes"}]},"mark":{"type":"text","align":"left","baseline":"middle","fontSize":17.5,"color":"#a9aeb6"},
 "encoding":{"x":{"field":"label","type":"nominal","axis":null,"scale":{"type":"point","range":[1520,1520]}},"y":{"field":"label","type":"nominal","axis":null,"scale":{"type":"point","range":[96,96]}},"text":{"field":"label"}}},
{"data":{"values":[{"label":"UTC+09:00"}]},"layer":[
 {"mark":{"type":"text","align":"left","baseline":"middle","fontSize":13.5,"stroke":"#ffffff","strokeWidth":5},"encoding":{"x":{"field":"label","type":"nominal","axis":null,"scale":{"type":"point","range":[1521,1521]}},"y":{"field":"label","type":"nominal","axis":null,"scale":{"type":"point","range":[75.5,75.5]}},"text":{"field":"label"}}},
 {"mark":{"type":"text","align":"left","baseline":"middle","fontSize":13.5,"color":"#55595f"},"encoding":{"x":{"field":"label","type":"nominal","axis":null},"y":{"field":"label","type":"nominal","axis":null},"text":{"field":"label"}}}
]},
{"data":{"values":[{"label":"arrow"}]},"mark":{"type":"point","shape":"M-1,-0.7L1,-0.7L0,0.7Z","filled":true,"size":144,"color":"#5d6166","opacity":1},
 "encoding":{"x":{"field":"label","type":"nominal","axis":null,"scale":{"type":"point","range":[1881,1881]}},"y":{"field":"label","type":"nominal","axis":null,"scale":{"type":"point","range":[95,95]}}}},
{"data":{"values":[{"label":"theme"}]},"mark":{"type":"point","filled":false,"size":784,"stroke":"#777b80","strokeWidth":1.3,"opacity":1,"shape":"M0.16,0.38A0.36,0.36 0 1 1 -0.56,0.38A0.36,0.36 0 1 1 0.16,0.38Z M-0.2,-0.12V-0.28 M-0.2,0.88V1 M-0.7,0.38H-0.88 M0.3,0.38H0.48 M-0.55,0.03L-0.68,-0.1 M-0.55,0.73L-0.68,0.86 M0.15,0.73L0.28,0.86 M0.35,-0.75A0.55,0.55 0 1 0 0.85,0A0.5,0.5 0 0 1 0.35,-0.75Z"},
 "encoding":{"x":{"field":"label","type":"nominal","axis":null,"scale":{"type":"point","range":[1716,1716]}},"y":{"field":"label","type":"nominal","axis":null,"scale":{"type":"point","range":[32,32]}}}},
{"data":{"values":[{"label":"gear"}]},"mark":{"type":"point","filled":true,"size":256,"color":"#5d6166","opacity":1,"shape":"M-.22,-.95L.22,-.95L.35,-.65L.72,-.67L.94,-.29L.74,-.03L.74,.03L.94,.29L.72,.67L.35,.65L.22,.95L-.22,.95L-.35,.65L-.72,.67L-.94,.29L-.74,.03L-.74,-.03L-.94,-.29L-.72,-.67L-.35,-.65Z M.33,0A.33,.33 0 1 0 -.33,0A.33,.33 0 1 0 .33,0Z"},
 "encoding":{"x":{"field":"label","type":"nominal","axis":null,"scale":{"type":"point","range":[1783.7,1783.7]}},"y":{"field":"label","type":"nominal","axis":null,"scale":{"type":"point","range":[38.7,38.7]}}}},
{"data":{"values":[{"label":"Configure"}]},"mark":{"type":"text","align":"left","baseline":"middle","fontSize":17.5,"color":"#55595f"},
 "encoding":{"x":{"field":"label","type":"nominal","axis":null,"scale":{"type":"point","range":[1803,1803]}},"y":{"field":"label","type":"nominal","axis":null,"scale":{"type":"point","range":[39.5,39.5]}},"text":{"field":"label"}}},
{"data":{"values":[{"label":"Basic General Info"}]},"mark":{"type":"text","align":"left","baseline":"middle","fontSize":24,"color":"#2b2e33"},
 "encoding":{"x":{"field":"label","type":"nominal","axis":null,"scale":{"type":"point","range":[91,91]}},"y":{"field":"label","type":"nominal","axis":null,"scale":{"type":"point","range":[204.5,204.5]}},"text":{"field":"label"}}},
{"data":{"values":[{"label":"collapse"}]},"mark":{"type":"point","filled":false,"size":256,"stroke":"#33373c","strokeWidth":1.8,"opacity":1,"shape":"M-1,-0.55L0,0.55L1,-0.55"},
 "encoding":{"x":{"field":"label","type":"nominal","axis":null,"scale":{"type":"point","range":[61,61]}},"y":{"field":"label","type":"nominal","axis":null,"scale":{"type":"point","range":[203,203]}}}},

{"data":{"values":[{"panel":"HTTP response / request"}]},"mark":{"type":"rect","fill":"#ffffff","stroke":"#e8ebef","strokeWidth":1.4,"cornerRadius":4},
 "encoding":{"x":{"field":"panel","type":"nominal","axis":null,"scale":{"type":"band","range":[38,1880],"padding":0}},"y":{"field":"panel","type":"nominal","axis":null,"scale":{"type":"band","range":[261,617],"padding":0}}}},
{"data":{"values":[{"panel":"HTTP response / request"}]},"layer":[
 {"mark":{"type":"rect","fill":"#ffffff","stroke":"#e8ebef","strokeWidth":1.4,"cornerRadius":4},"encoding":{"x":{"field":"panel","type":"nominal","axis":null,"scale":{"type":"band","range":[38,1880],"padding":0}},"y":{"field":"panel","type":"nominal","axis":null,"scale":{"type":"band","range":[261,302],"padding":0}}}},
 {"mark":{"type":"text","align":"left","baseline":"middle","fontSize":20,"dx":11,"dy":1.5,"color":"#2b2e33"},"encoding":{"x":{"field":"panel","type":"nominal","axis":null,"bandPosition":0},"y":{"field":"panel","type":"nominal","axis":null},"text":{"field":"panel"}}}
]},
{"data":{"values":[{"panel":"Front - Data transfer","row":"transfer"},{"panel":"Back - Data transfer","row":"transfer"}]},"mark":{"type":"rect","fill":"#ffffff","stroke":"#e8ebef","strokeWidth":1.4,"cornerRadius":4},
 "encoding":{"x":{"field":"panel","type":"nominal","axis":null,"sort":null,"scale":{"type":"band","range":[38,1880],"paddingInner":0.0151,"paddingOuter":0}},"y":{"field":"row","type":"nominal","axis":null,"scale":{"type":"band","range":[631,989],"padding":0}}}},
{"data":{"values":[{"panel":"Front - Data transfer","row":"transfer"},{"panel":"Back - Data transfer","row":"transfer"}]},"layer":[
 {"mark":{"type":"rect","fill":"#ffffff","stroke":"#e8ebef","strokeWidth":1.4,"cornerRadius":4},"encoding":{"x":{"field":"panel","type":"nominal","axis":null,"sort":null,"scale":{"type":"band","range":[38,1880],"paddingInner":0.0151,"paddingOuter":0}},"y":{"field":"row","type":"nominal","axis":null,"scale":{"type":"band","range":[631,672],"padding":0}}}},
 {"mark":{"type":"text","align":"left","baseline":"middle","fontSize":20,"dx":11,"dy":2,"color":"#2b2e33"},"encoding":{"x":{"field":"panel","type":"nominal","axis":null,"sort":null,"bandPosition":0},"y":{"field":"row","type":"nominal","axis":null},"text":{"field":"panel"}}}
]},
{"data":{"values":[{"panel":"Sessions","row":"counts"},{"panel":"Connections","row":"counts"}]},"mark":{"type":"rect","fill":"#ffffff","stroke":"#e8ebef","strokeWidth":1.4,"cornerRadius":4},
 "encoding":{"x":{"field":"panel","type":"nominal","axis":null,"sort":null,"scale":{"type":"band","range":[38,1880],"paddingInner":0.0151,"paddingOuter":0}},"y":{"field":"row","type":"nominal","axis":null,"scale":{"type":"band","range":[1002,1120],"padding":0}}}},
{"data":{"values":[{"panel":"Sessions","row":"counts"},{"panel":"Connections","row":"counts"}]},"layer":[
 {"mark":{"type":"rect","fill":"#ffffff","stroke":"#e8ebef","strokeWidth":1.4,"cornerRadius":4},"encoding":{"x":{"field":"panel","type":"nominal","axis":null,"sort":null,"scale":{"type":"band","range":[38,1880],"paddingInner":0.0151,"paddingOuter":0}},"y":{"field":"row","type":"nominal","axis":null,"scale":{"type":"band","range":[1002,1043],"padding":0}}}},
 {"mark":{"type":"text","align":"left","baseline":"middle","fontSize":20,"dx":11,"dy":2,"color":"#2b2e33"},"encoding":{"x":{"field":"panel","type":"nominal","axis":null,"sort":null,"bandPosition":0},"y":{"field":"row","type":"nominal","axis":null},"text":{"field":"panel"}}}
]},

{"data":{"name":"ticksHttp"},"mark":{"type":"rule","color":"#eceef1","strokeWidth":1.3},"encoding":{"x":{"datum":{"year":1900,"month":1,"date":1,"hours":15,"minutes":28,"seconds":7},"type":"temporal","axis":null,"scale":{"domain":["1900-01-01T15:28:07","1900-01-01T15:58:07"],"range":[98,1872],"nice":false}},"x2":{"datum":{"year":1900,"month":1,"date":1,"hours":15,"minutes":58,"seconds":7}},"y":{"field":"v","type":"quantitative","axis":null,"scale":{"domain":[0,6],"range":[546.7,327.3],"nice":false}}}},
{"data":{"name":"http","format":{"parse":{"t":"date:'%H:%M:%S'"}}},"transform":[{"fold":["a","b","c","d","e","f","g","h","i","j","k","l"],"as":["s","v"]}],
  "mark":{"type":"area","opacity":1,"interpolate":"linear"},
  "encoding":{
   "x":{"field":"t","type":"temporal","title":null,"scale":{"domain":["1900-01-01T15:28:07","1900-01-01T15:58:07"],"range":[98,1872],"nice":false},
    "axis":{"orient":"bottom","offset":-533.3,"format":"%H:%M","values":[{"year":1900,"month":1,"date":1,"hours":15,"minutes":30},{"year":1900,"month":1,"date":1,"hours":15,"minutes":35},{"year":1900,"month":1,"date":1,"hours":15,"minutes":40},{"year":1900,"month":1,"date":1,"hours":15,"minutes":45},{"year":1900,"month":1,"date":1,"hours":15,"minutes":50},{"year":1900,"month":1,"date":1,"hours":15,"minutes":55}],"grid":false,"domainColor":"#6d7278","domainWidth":1.4,"tickColor":"#6d7278","tickSize":6,"labelFontSize":13.5,"labelColor":"#4b4f54","labelPadding":3,"zindex":1}},
   "y":{"field":"v","type":"quantitative","stack":"zero","title":"Per second","scale":{"domain":[0,6],"range":[546.7,327.3],"nice":false},
    "axis":{"orient":"left","offset":-98,"zindex":1,"values":[0,1,2,3,4,5,6],"grid":false,"domain":false,"ticks":false,"labelFontSize":13.5,"labelColor":"#4b4f54","labelPadding":5,"titleFontSize":13,"titleFontWeight":"normal","titleColor":"#a0a5ab","titleX":-40,"titleY":440}},
   "color":{"field":"s","type":"nominal","scale":{"domain":["a","b","c","d","e","f","g","h","i","j","k","l"],"range":["#90caf9","#3399ea","#d7c3fa","#745fdf","#ffc61f","#fdec94","#90caf9","#3399ea","#d7c3fa","#745fdf","#ffc61f","#fdec94"]},
    "legend":{"orient":"none","legendX":85.5,"legendY":592,"columns":12,"title":null,"padding":0,"columnPadding":22,"symbolSize":196,"symbolStrokeWidth":0,"symbolType":"M-0.8,-1L0.8,-1Q1,-1 1,-0.8L1,0.8Q1,1 0.8,1L-0.8,1Q-1,1 -1,0.8L-1,-0.8Q-1,-1 -0.8,-1Z","labelFontSize":14.5,"labelColor":"#3f4349","labelOffset":8,
     "labelExpr":"{a:'200',b:'404',c:'500',d:'200',e:'404',f:'500',g:'instance:demo-01:9100',h:'instance:demo-02:9100',i:'instance:demo-03:9100',j:'instance:demo-01:9100',k:'instance:demo-02:9100',l:'instance:demo-03:9100'}[datum.label]"}}
  }},

{"data":{"name":"ticksFront"},"mark":{"type":"rule","color":"#eceef1","strokeWidth":1.3},"encoding":{"x":{"datum":{"year":1900,"month":1,"date":1,"hours":15,"minutes":28,"seconds":7},"type":"temporal","axis":null,"scale":{"domain":["1900-01-01T15:28:07","1900-01-01T15:58:07"],"range":[99,945],"nice":false}},"x2":{"datum":{"year":1900,"month":1,"date":1,"hours":15,"minutes":58,"seconds":7}},"y":{"field":"v","type":"quantitative","axis":null,"scale":{"domain":[0,3],"range":[917,714],"nice":false}}}},
{"data":{"name":"front","format":{"parse":{"t":"date:'%H:%M:%S'"}}},"transform":[{"fold":["a","b","c","d","e","f"],"as":["s","v"]}],
  "mark":{"type":"area","opacity":1,"interpolate":"linear","strokeWidth":1.3},
  "encoding":{
   "x":{"field":"t","type":"temporal","title":null,"scale":{"domain":["1900-01-01T15:28:07","1900-01-01T15:58:07"],"range":[99,945],"nice":false},
    "axis":{"orient":"bottom","offset":-163,"format":"%H:%M","values":[{"year":1900,"month":1,"date":1,"hours":15,"minutes":30},{"year":1900,"month":1,"date":1,"hours":15,"minutes":35},{"year":1900,"month":1,"date":1,"hours":15,"minutes":40},{"year":1900,"month":1,"date":1,"hours":15,"minutes":45},{"year":1900,"month":1,"date":1,"hours":15,"minutes":50},{"year":1900,"month":1,"date":1,"hours":15,"minutes":55}],"grid":false,"domainColor":"#6d7278","domainWidth":1.4,"tickColor":"#6d7278","tickSize":6,"labelFontSize":13.5,"labelColor":"#4b4f54","labelPadding":3,"zindex":1}},
   "y":{"field":"v","type":"quantitative","stack":"zero","title":"Per second","scale":{"domain":[0,3],"range":[917,714],"nice":false},
    "axis":{"orient":"left","offset":-99,"zindex":1,"values":[0,1,2,3],"labelExpr":"datum.value == 0 ? '0' : datum.value + 'G'","grid":false,"domain":false,"ticks":false,"labelFontSize":13.5,"labelColor":"#4b4f54","labelPadding":5,"titleFontSize":13,"titleFontWeight":"normal","titleColor":"#a0a5ab","titleX":-41,"titleY":810}},
   "color":{"field":"s","type":"nominal","scale":{"domain":["a","b","c","d","e","f"],"range":["#90caf9","#3399ea","#d7c3fa","#745fdf","#ffc61f","#fdec94"]},
    "legend":{"orient":"none","legendX":77,"legendY":963,"columns":5,"values":["a","b","c","d","e"],"title":"instance:","titleOrient":"left","titleFontSize":14.5,"titleFontWeight":"bold","titleColor":"#3f4349","titlePadding":12.5,"padding":0,"columnPadding":22,"symbolSize":196,"symbolStrokeWidth":0,"symbolType":"M-0.8,-1L0.8,-1Q1,-1 1,-0.8L1,0.8Q1,1 0.8,1L-0.8,1Q-1,1 -1,0.8L-1,-0.8Q-1,-1 -0.8,-1Z","labelFontSize":14.5,"labelColor":"#3f4349","labelOffset":8,
     "labelExpr":"{a:'demo-01:9100',b:'demo-02:9100',c:'demo-03:9100',d:'demo-01:9100',e:'demo-02:9100'}[datum.label]"}},
   "stroke":{"field":"s","type":"nominal","legend":null,"scale":{"domain":["a","b","c","d","e","f"],"range":["#3399ea","transparent","transparent","transparent","transparent","transparent"]}}
  }},
{"data":{"values":[{"label":"+1"}]},"layer":[
 {"mark":{"type":"rect","fill":"#ffffff","stroke":"#cdd2d7","strokeWidth":1.2,"cornerRadius":4},"encoding":{"x":{"field":"label","type":"nominal","axis":null,"scale":{"type":"band","range":[880.6,915.5],"padding":0}},"y":{"field":"label","type":"nominal","axis":null,"scale":{"type":"band","range":[955,980.7],"padding":0}}}},
 {"mark":{"type":"text","align":"center","baseline":"middle","fontSize":14,"color":"#43474d"},"encoding":{"x":{"field":"label","type":"nominal","axis":null},"y":{"field":"label","type":"nominal","axis":null},"text":{"field":"label"}}}
]},

{"data":{"name":"ticksBack"},"mark":{"type":"rule","color":"#eceef1","strokeWidth":1.3},"encoding":{"x":{"datum":{"year":1900,"month":1,"date":1,"hours":15,"minutes":28,"seconds":7},"type":"temporal","axis":null,"scale":{"domain":["1900-01-01T15:28:07","1900-01-01T15:58:07"],"range":[1025.5,1872.4],"nice":false}},"x2":{"datum":{"year":1900,"month":1,"date":1,"hours":15,"minutes":58,"seconds":7}},"y":{"field":"v","type":"quantitative","axis":null,"scale":{"domain":[0,2.5],"range":[917,705.7],"nice":false}}}},
{"data":{"name":"back","format":{"parse":{"t":"date:'%H:%M:%S'"}}},"transform":[{"fold":["a","b","c","d","e","f"],"as":["s","v"]}],
  "mark":{"type":"area","opacity":1,"interpolate":"linear","strokeWidth":1.3},
  "encoding":{
   "x":{"field":"t","type":"temporal","title":null,"scale":{"domain":["1900-01-01T15:28:07","1900-01-01T15:58:07"],"range":[1025.5,1872.4],"nice":false},
    "axis":{"orient":"bottom","offset":-163,"format":"%H:%M","values":[{"year":1900,"month":1,"date":1,"hours":15,"minutes":30},{"year":1900,"month":1,"date":1,"hours":15,"minutes":35},{"year":1900,"month":1,"date":1,"hours":15,"minutes":40},{"year":1900,"month":1,"date":1,"hours":15,"minutes":45},{"year":1900,"month":1,"date":1,"hours":15,"minutes":50},{"year":1900,"month":1,"date":1,"hours":15,"minutes":55}],"grid":false,"domainColor":"#6d7278","domainWidth":1.4,"tickColor":"#6d7278","tickSize":6,"labelFontSize":13.5,"labelColor":"#4b4f54","labelPadding":3,"zindex":1}},
   "y":{"field":"v","type":"quantitative","stack":"zero","title":"Per second","scale":{"domain":[0,2.5],"range":[917,705.7],"nice":false},
    "axis":{"orient":"left","offset":-1025.5,"zindex":1,"values":[0,0.5,1,1.5,2,2.5],"labelExpr":"datum.value == 0 ? '0' : datum.value + 'G'","grid":false,"domain":false,"ticks":false,"labelFontSize":13.5,"labelColor":"#4b4f54","labelPadding":5,"titleFontSize":13,"titleFontWeight":"normal","titleColor":"#a0a5ab","titleX":-40.5,"titleY":810}},
   "color":{"field":"s","type":"nominal","scale":{"domain":["a","b","c","d","e","f"],"range":["#90caf9","#3399ea","#d7c3fa","#745fdf","#ffc61f","#fdec94"]},
    "legend":{"orient":"none","legendX":1004,"legendY":963,"columns":5,"values":["a","b","c","d","e"],"title":"instance:","titleOrient":"left","titleFontSize":14.5,"titleFontWeight":"bold","titleColor":"#3f4349","titlePadding":12.5,"padding":0,"columnPadding":22,"symbolSize":196,"symbolStrokeWidth":0,"symbolType":"M-0.8,-1L0.8,-1Q1,-1 1,-0.8L1,0.8Q1,1 0.8,1L-0.8,1Q-1,1 -1,0.8L-1,-0.8Q-1,-1 -0.8,-1Z","labelFontSize":14.5,"labelColor":"#3f4349","labelOffset":8,
     "labelExpr":"{a:'demo-01:9100',b:'demo-02:9100',c:'demo-03:9100',d:'demo-01:9100',e:'demo-02:9100'}[datum.label]"}},
   "stroke":{"field":"s","type":"nominal","legend":null,"scale":{"domain":["a","b","c","d","e","f"],"range":["#3399ea","transparent","transparent","transparent","transparent","transparent"]}}
  }},
{"data":{"values":[{"label":"+1"}]},"layer":[
 {"mark":{"type":"rect","fill":"#ffffff","stroke":"#cdd2d7","strokeWidth":1.2,"cornerRadius":4},"encoding":{"x":{"field":"label","type":"nominal","axis":null,"scale":{"type":"band","range":[1807.5,1842.4],"padding":0}},"y":{"field":"label","type":"nominal","axis":null,"scale":{"type":"band","range":[955,980.7],"padding":0}}}},
 {"mark":{"type":"text","align":"center","baseline":"middle","fontSize":14,"color":"#43474d"},"encoding":{"x":{"field":"label","type":"nominal","axis":null},"y":{"field":"label","type":"nominal","axis":null},"text":{"field":"label"}}}
]},

{"data":{"name":"ticksSessions"},"mark":{"type":"rule","color":"#eceef1","strokeWidth":1.3},
 "encoding":{"x":{"datum":{"year":1900,"month":1,"date":1,"hours":15,"minutes":28,"seconds":7},"type":"temporal","axis":null,"scale":{"domain":["1900-01-01T15:28:07","1900-01-01T15:58:07"],"range":[99,945],"nice":false}},"x2":{"datum":{"year":1900,"month":1,"date":1,"hours":15,"minutes":58,"seconds":7}},
  "y":{"field":"v","type":"quantitative","title":null,"scale":{"domain":[0,100],"range":[1300,1050.7],"nice":false},"axis":{"orient":"left","zindex":1,"offset":-99,"values":[100],"grid":false,"domain":false,"ticks":false,"labelFontSize":13.5,"labelColor":"#4b4f54","labelPadding":5}}}},
{"data":{"name":"ticksConnections"},"mark":{"type":"rule","color":"#eceef1","strokeWidth":1.3},
 "encoding":{"x":{"datum":{"year":1900,"month":1,"date":1,"hours":15,"minutes":28,"seconds":7},"type":"temporal","axis":null,"scale":{"domain":["1900-01-01T15:28:07","1900-01-01T15:58:07"],"range":[1025.5,1872.4],"nice":false}},"x2":{"datum":{"year":1900,"month":1,"date":1,"hours":15,"minutes":58,"seconds":7}},
  "y":{"field":"v","type":"quantitative","title":null,"scale":{"domain":[0,80],"range":[1300,1085],"nice":false},"axis":{"orient":"left","zindex":1,"offset":-1025.5,"values":[80],"grid":false,"domain":false,"ticks":false,"labelFontSize":13.5,"labelColor":"#4b4f54","labelPadding":5}}}}
]
}
